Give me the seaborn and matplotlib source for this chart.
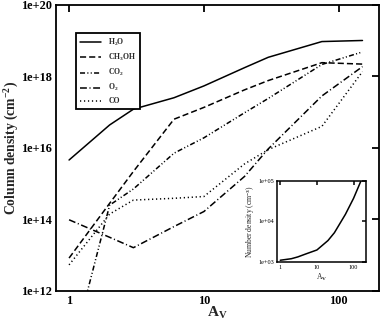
import numpy as np
import pandas as pd
import matplotlib
matplotlib.use("Agg")
import matplotlib.pyplot as plt
import seaborn as sns

# visual extinction grid (main panel)
av = [1, 2, 3, 6, 10, 20, 30, 75, 150]

# log10 column densities (cm^-2)
log_h2o = [15.66, 16.64, 17.08, 17.40, 17.73, 18.24, 18.53, 18.97, 19.00]
log_ch3oh = [12.92, 14.45, 15.34, 16.80, 17.13, 17.62, 17.88, 18.38, 18.34]
log_co2 = [10.00, 14.40, 14.85, 15.85, 16.28, 16.98, 17.38, 18.33, 18.68]
log_o2 = [13.99, 13.50, 13.21, 13.80, 14.22, 15.20, 15.97, 17.45, 18.27]
log_co = [12.73, 14.15, 14.54, 14.59, 14.64, 15.55, 15.95, 16.60, 18.13]

species = ["H$_2$O", "CH$_3$OH", "CO$_2$", "O$_2$", "CO"]

# inset: number density profile
av_inset = [1, 2, 3, 5, 10, 20, 30, 60, 100, 160]
n_inset = [1.12e3, 1.22e3, 1.35e3, 1.6e3, 2.0e3, 3.4e3, 5.3e3, 1.5e4, 3.7e4, 1.0e5]

x_ticks = [1, 10, 100]
x_ticklabels = ["1", "10", "100"]
y_ticks = [1e12, 1e14, 1e16, 1e18, 1e20]
y_ticklabels = ["1e+12", "1e+14", "1e+16", "1e+18", "1e+20"]
inset_y_ticks = [1e3, 1e4, 1e5]
inset_y_ticklabels = ["1e+03", "1e+04", "1e+05"]


def build_frame():
    rows = []
    for name, vals in zip(species, [log_h2o, log_ch3oh, log_co2, log_o2, log_co]):
        for a, v in zip(av, vals):
            rows.append({"av": a, "n": 10 ** v, "species": name})
    return pd.DataFrame(rows)


def style_axes(ax, lw, ticklen):
    for s in ax.spines.values():
        s.set_linewidth(lw)
        s.set_color("black")
    ax.tick_params(which="major", direction="in", length=ticklen, width=lw,
                   top=True, right=True, colors="black")
    ax.tick_params(which="minor", length=0)


def main():
    sns.set_style("white")
    plt.rcParams["font.family"] = ["Liberation Serif", "DejaVu Serif"]
    plt.rcParams["font.weight"] = "bold"
    plt.rcParams["mathtext.fontset"] = "custom"
    plt.rcParams["mathtext.rm"] = "Liberation Serif:bold"
    plt.rcParams["mathtext.it"] = "Liberation Serif:bold"
    plt.rcParams["mathtext.bf"] = "Liberation Serif:bold"

    data = build_frame()

    fig = plt.figure(figsize=(3.82, 3.24), dpi=100)
    ax = fig.add_axes([0.1466, 0.1019, 0.8464, 0.8836])

    dashes = {
        "H$_2$O": "",
        "CH$_3$OH": (4, 2),
        "CO$_2$": (3.3, 1.5, 0.7, 1.5, 0.7, 1.5),
        "O$_2$": (4.5, 1.7, 0.7, 1.7),
        "CO": (0.8, 1.8),
    }
    sns.lineplot(data=data, x="av", y="n", style="species", style_order=species,
                 dashes=dashes, color="black", linewidth=1.1, ax=ax)

    ax.set_xscale("log")
    ax.set_yscale("log")
    ax.set_xlim(0.8, 200)
    ax.set_ylim(1e12, 1e20)
    ax.set_xticks(x_ticks)
    ax.set_xticklabels(x_ticklabels)
    ax.set_yticks(y_ticks)
    ax.set_yticklabels(y_ticklabels)
    style_axes(ax, 1.3, 5)
    ax.tick_params(labelsize=8.8, pad=3)
    ax.set_xlabel("A$_\\mathrm{V}$", fontsize=11, fontweight="bold")
    ax.xaxis.set_label_coords(0.5, -0.048)
    ax.set_ylabel("Column density (cm$^{-2}$)", fontsize=9.8, fontweight="bold")
    ax.yaxis.set_label_coords(-0.108, 0.5)

    handles, labels = ax.get_legend_handles_labels()
    leg = ax.legend(handles, labels, loc="upper left", bbox_to_anchor=(0.062, 0.90),
                    borderaxespad=0, fontsize=5.5, handlelength=2.8, labelspacing=0.5,
                    fancybox=False, framealpha=1, edgecolor="black",
                    borderpad=0.5, handletextpad=0.9)
    leg.get_frame().set_linewidth(1.3)

    # inset with density profile
    ins = fig.add_axes([0.7244, 0.1906, 0.2340, 0.2517])
    sns.lineplot(x=av_inset, y=n_inset, color="black", linewidth=1.1, ax=ins)
    ins.set_xscale("log")
    ins.set_yscale("log")
    ins.set_xlim(0.8, 220)
    ins.set_ylim(1e3, 1e5)
    ins.set_xticks(x_ticks)
    ins.set_xticklabels(x_ticklabels)
    ins.set_yticks(inset_y_ticks)
    ins.set_yticklabels(inset_y_ticklabels)
    style_axes(ins, 1.1, 3)
    ins.tick_params(labelsize=4.5, pad=2)
    for t in ins.get_xticklabels() + ins.get_yticklabels():
        t.set_fontweight("normal")
    ins.set_xlabel("A$_\\mathrm{V}$", fontsize=5.5, labelpad=1, fontweight="normal")
    ins.set_ylabel("Number density (cm$^{-3}$)", fontsize=5.5, labelpad=1, fontweight="normal")

    fig.savefig("out.png", dpi=100)
    plt.close(fig)


if __name__ == "__main__":
    main()
